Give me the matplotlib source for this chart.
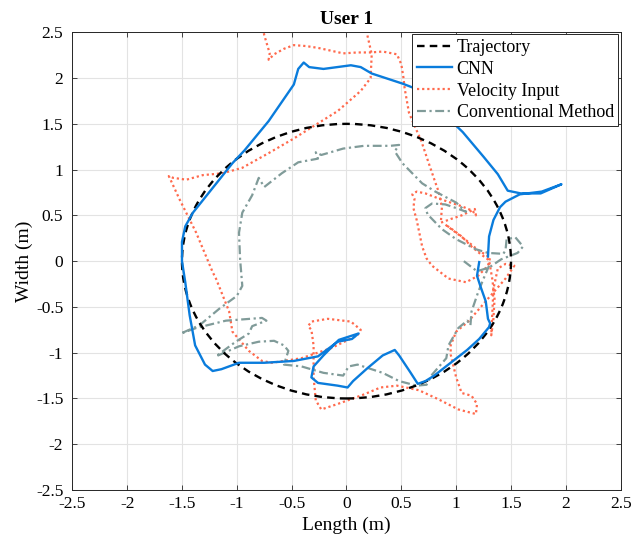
import matplotlib
matplotlib.use("Agg")
import matplotlib.pyplot as plt
from matplotlib.patches import Circle
from matplotlib.lines import Line2D

plt.rcParams['font.family'] = ['Liberation Serif', 'DejaVu Serif']

# reference trajectory: circle centred on origin
traj_center = (0.0, 0.0)
traj_radius = 1.5

# CNN estimate (x, y) in metres
cnn_x = [1.21, 1.19, 1.22, 1.27, 1.29, 1.31, 1.30, 1.21, 1.10, 0.95, 0.80, 0.72, 0.65,
         0.58, 0.48, 0.44, 0.33, 0.19, 0.06, 0.01, -0.08, -0.26, -0.32, -0.30, -0.21,
         -0.07, 0.11, 0.05, -0.08, -0.26, -0.48, -0.75, -0.98, -1.14, -1.22, -1.29,
         -1.38, -1.43, -1.47, -1.50, -1.50, -1.47, -1.40, -1.22, -1.04, -0.93, -0.71,
         -0.48, -0.44, -0.39, -0.34, -0.21, 0.04, 0.13, 0.23, 0.51, 0.64, 0.80, 1.06,
         1.25, 1.38, 1.47, 1.59, 1.77, 1.96, 1.78, 1.58, 1.45, 1.40, 1.34, 1.30, 1.29]
cnn_y = [-0.01, -0.16, -0.27, -0.44, -0.63, -0.68, -0.72, -0.85, -0.97, -1.11, -1.25,
         -1.31, -1.34, -1.21, -1.03, -0.97, -1.03, -1.17, -1.31, -1.38, -1.36, -1.33,
         -1.27, -1.15, -1.03, -0.86, -0.79, -0.85, -0.88, -1.04, -1.09, -1.11, -1.11,
         -1.18, -1.20, -1.13, -0.92, -0.59, -0.23, 0.00, 0.21, 0.38, 0.53, 0.80, 1.07,
         1.21, 1.53, 1.93, 2.10, 2.17, 2.12, 2.10, 2.14, 2.12, 2.05, 1.94, 1.88, 1.71,
         1.41, 1.14, 0.95, 0.77, 0.74, 0.74, 0.84, 0.76, 0.73, 0.65, 0.59, 0.45, 0.27,
         0.05]

# velocity-input estimate
vel_x = [-0.77, -0.75, -0.72, -0.70, -0.71, -0.66, -0.57, -0.48, -0.37, -0.26, -0.03,
         0.10, 0.22, 0.33, 0.46, 0.50, 0.52, 0.53, 0.57, 0.62, 0.68, 0.75, 0.81, 0.84,
         0.87, 0.86, 0.95, 1.05, 1.12, 1.17, 1.18, 1.15, 1.05, 0.95, 0.85, 0.72, 0.64,
         0.60, 0.62, 0.61, 0.64, 0.69, 0.73, 0.78, 0.93, 1.09, 1.20, 1.29, 1.31, 1.20,
         1.10, 1.00, 0.90, 0.95, 1.05, 1.14, 1.22, 1.30, 1.33, 1.35, 1.34, 1.32, 1.33,
         1.34, 1.38, 1.45, 1.53, 1.45, 1.29, 1.11, 1.00, 0.95, 0.95, 1.00, 1.05, 1.14,
         1.19, 1.18, 1.02, 0.84, 0.66, 0.46, 0.31, 0.15, -0.08, -0.23, -0.28, -0.30,
         -0.30, -0.32, -0.35, -0.32, -0.17, 0.04, 0.13, 0.10, -0.14, -0.41, -0.68,
         -0.77, -0.89, -1.04, -1.07, -1.19, -1.22, -1.37, -1.52, -1.62, -1.58, -1.46,
         -1.31, -1.13, -0.95, -0.71, -0.48, -0.32, -0.08, 0.13, 0.22, 0.23, 0.19, 0.17]
vel_y = [2.60, 2.47, 2.35, 2.27, 2.20, 2.26, 2.32, 2.36, 2.35, 2.33, 2.27, 2.28, 2.28,
         2.29, 2.26, 2.15, 2.00, 1.89, 1.62, 1.48, 1.32, 1.07, 0.86, 0.76, 0.59, 0.42,
         0.46, 0.50, 0.54, 0.57, 0.50, 0.55, 0.60, 0.64, 0.68, 0.74, 0.76, 0.73, 0.68,
         0.58, 0.45, 0.16, 0.03, -0.05, -0.19, -0.23, -0.16, -0.05, 0.04, 0.12, 0.22,
         0.31, 0.40, 0.36, 0.27, 0.16, 0.08, 0.01, -0.20, -0.41, -0.63, -0.81, -0.55,
         -0.30, -0.08, -0.03, -0.05, -0.19, -0.41, -0.66, -0.77, -0.92, -1.02, -1.27,
         -1.44, -1.47, -1.56, -1.67, -1.62, -1.51, -1.41, -1.36, -1.38, -1.46, -1.56,
         -1.62, -1.52, -1.27, -0.92, -0.75, -0.71, -0.66, -0.63, -0.66, -0.75, -0.81,
         -0.95, -1.06, -1.11, -1.09, -0.98, -0.77, -0.55, -0.19, -0.12, 0.31, 0.67,
         0.93, 0.91, 0.89, 0.94, 0.96, 1.02, 1.18, 1.34, 1.46, 1.64, 1.86, 2.00, 2.26,
         2.47, 2.60]

# conventional method estimate
conv_x = [1.07, 1.19, 1.30, 1.41, 1.56, 1.61, 1.54, 1.46, 1.45, 1.43, 1.29, 1.18, 1.00,
          0.87, 0.74, 0.72, 0.78, 0.90, 1.00, 1.09, 1.00, 0.81, 0.69, 0.51, 0.44, 0.48,
          0.40, 0.16, -0.03, -0.23, -0.28, -0.26, -0.44, -0.59, -0.75, -0.80, -0.86,
          -0.95, -0.98, -0.97, -0.95, -1.00, -1.16, -1.34, -1.51, -1.37, -1.10, -0.77,
          -0.73, -0.86, -0.89, -1.01, -1.19, -0.98, -0.80, -0.66, -0.57, -0.53, -0.57,
          -0.41, -0.21, -0.03, 0.02, 0.10, 0.33, 0.48, 0.64, 0.73, 0.78, 0.91, 0.93,
          1.02, 1.10, 1.13, 1.14, 1.20, 1.25, 1.30]
conv_y = [0.00, -0.11, -0.07, 0.02, 0.09, 0.16, 0.26, 0.24, 0.12, 0.08, 0.09, 0.13, 0.24,
          0.35, 0.51, 0.58, 0.63, 0.62, 0.58, 0.54, 0.64, 0.76, 0.85, 1.07, 1.20, 1.27,
          1.26, 1.26, 1.23, 1.16, 1.19, 1.12, 1.08, 0.96, 0.81, 0.91, 0.72, 0.53, 0.31,
          0.02, -0.27, -0.38, -0.52, -0.70, -0.79, -0.73, -0.65, -0.62, -0.65, -0.71,
          -0.79, -0.88, -1.04, -0.93, -0.88, -0.87, -0.92, -0.98, -1.13, -1.15, -1.22,
          -1.25, -1.15, -1.13, -1.22, -1.31, -1.36, -1.35, -1.24, -1.06, -0.92, -0.73,
          -0.65, -0.70, -0.55, -0.34, -0.19, -0.05]

ticks = [-2.5, -2, -1.5, -1, -0.5, 0, 0.5, 1, 1.5, 2, 2.5]
tick_labels = ['-2.5', '-2', '-1.5', '-1', '-0.5', '0', '0.5', '1', '1.5', '2', '2.5']

fig = plt.figure(figsize=(6.42, 5.45), dpi=100)
ax = fig.add_axes([0.1126, 0.1009, 0.8542, 0.8398])

traj_style = (0, (3.2, 2.2))
traj = Circle(traj_center, traj_radius, fill=False, edgecolor='black',
              linestyle=traj_style, linewidth=1.7, zorder=3)
ax.add_patch(traj)
cnn_line, = ax.plot(cnn_x, cnn_y, color='#0A7CDC', linewidth=1.7, label='CNN', zorder=4)
vel_line, = ax.plot(vel_x, vel_y, color='#FF6A4D', linewidth=1.6, linestyle=(0, (1, 1.3)),
                    label='Velocity Input', zorder=2)
conv_line, = ax.plot(conv_x, conv_y, color='#809B99', linewidth=1.6,
                     linestyle=(0, (4, 1.6, 1, 1.6)), label='Conventional Method', zorder=2)

traj_handle = Line2D([], [], color='black', linestyle=traj_style, linewidth=1.7,
                     label='Trajectory')

ax.set_xlim(-2.5, 2.5)
ax.set_ylim(-2.5, 2.5)
ax.set_xticks(ticks)
ax.set_xticklabels(tick_labels)
ax.set_yticks(ticks)
ax.set_yticklabels(tick_labels)
ax.tick_params(direction='in', top=True, right=True, labelsize=12.5, length=3.6,
               width=0.6, color='#262626')
ax.tick_params(axis='y', pad=6.5)
ax.tick_params(axis='x', pad=4.5)
ax.grid(True, color='#e3e3e3', linewidth=0.8)
ax.set_axisbelow(True)
for s in ax.spines.values():
    s.set_linewidth(0.7)
    s.set_color('#262626')

ax.set_title('User 1', fontweight='bold', fontsize=14, pad=6)
ax.set_xlabel('Length (m)', fontsize=14, labelpad=3)
ax.set_ylabel('Width (m)', fontsize=14, labelpad=2)

leg = ax.legend(handles=[traj_handle, cnn_line, vel_line, conv_line], loc='upper right',
                bbox_to_anchor=(0.9956, 0.9956), borderaxespad=0,
                fontsize=13, frameon=True, fancybox=False, framealpha=1,
                edgecolor='#262626', borderpad=0.25, labelspacing=0.27,
                handlelength=1.95, handletextpad=0.25)
leg.get_frame().set_linewidth(0.7)

fig.savefig('out.png', dpi=100)
